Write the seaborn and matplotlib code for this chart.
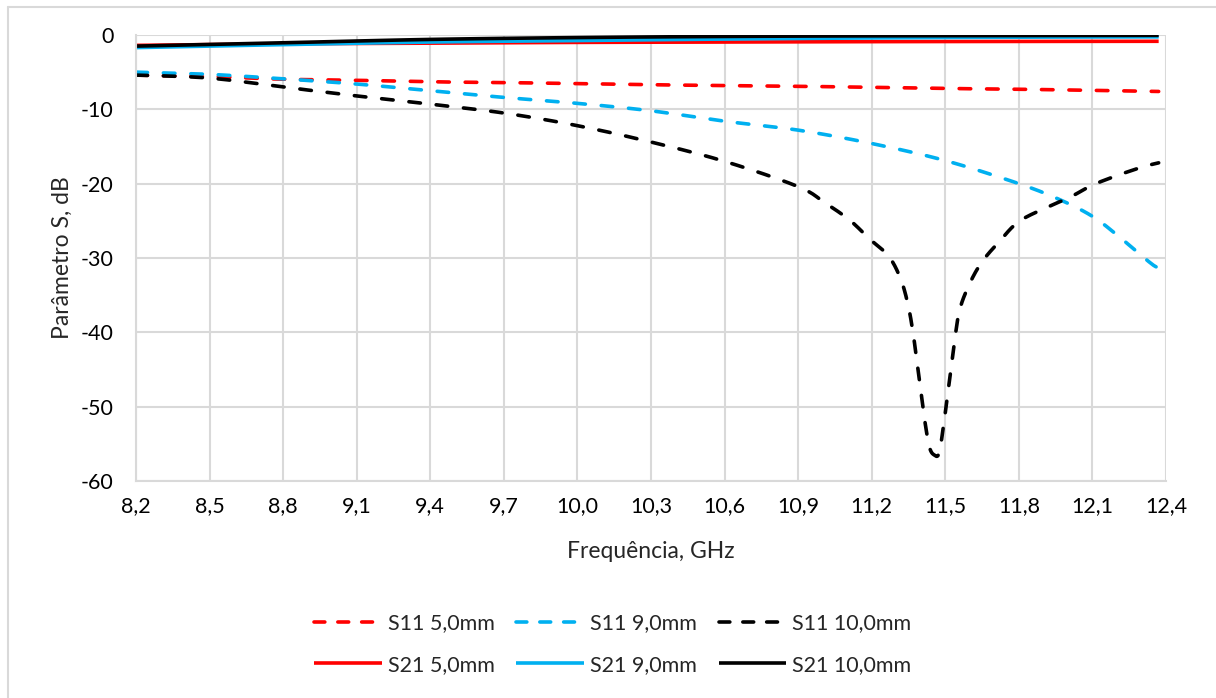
import matplotlib
matplotlib.use("Agg")
import matplotlib.pyplot as plt
import matplotlib.lines as mlines
import seaborn as sns
import numpy as np

# Frequency (GHz) and S-parameter (dB) series
freq_s11_5 = [8.2, 8.5, 8.8, 9.1, 9.4, 9.7, 10.0, 10.3, 10.6, 10.9, 11.2, 11.5, 11.8, 12.1, 12.37]
s11_5 = [-5.4, -5.6, -5.95, -6.1, -6.3, -6.4, -6.55, -6.7, -6.8, -6.9, -7.05, -7.2, -7.3, -7.45, -7.6]

freq_s11_9 = [8.2, 8.5, 8.8, 9.1, 9.4, 9.7, 10.0, 10.3, 10.6, 10.9, 11.2, 11.5, 11.8, 11.97, 12.1, 12.2, 12.33, 12.36]
s11_9 = [-5.0, -5.3, -5.9, -6.6, -7.5, -8.4, -9.2, -10.2, -11.6, -12.8, -14.6, -16.9, -20.0, -22.2, -24.4, -26.9, -30.5, -31.2]

freq_s11_10 = [8.2, 8.5, 8.8, 9.1, 9.4, 9.7, 10.0, 10.3, 10.6, 10.9, 11.01, 11.11, 11.19, 11.27, 11.32,
               11.35, 11.37, 11.385, 11.40, 11.415, 11.435, 11.455, 11.475, 11.495, 11.51, 11.525, 11.54,
               11.56, 11.6, 11.65, 11.72, 11.8, 11.92, 12.01, 12.1, 12.21, 12.31, 12.37]
s11_10 = [-5.4, -5.8, -7.0, -8.2, -9.3, -10.5, -12.2, -14.4, -17.0, -20.4, -22.6, -24.9, -27.4, -29.8, -33.0,
          -36.6, -40.4, -44.2, -47.8, -51.6, -55.4, -56.5, -56.2, -52.0, -48.2, -44.4, -40.6,
          -36.8, -33.4, -30.5, -27.8, -25.1, -23.1, -21.8, -20.2, -18.8, -17.7, -17.2]

freq_s21 = [8.2, 8.8, 9.4, 10.0, 10.6, 11.2, 11.8, 12.37]
s21_5 = [-1.4, -1.2, -1.1, -1.0, -0.95, -0.9, -0.87, -0.85]
s21_9 = [-1.7, -1.3, -0.95, -0.75, -0.55, -0.4, -0.3, -0.25]
s21_10 = [-1.5, -1.05, -0.6, -0.35, -0.2, -0.12, -0.08, -0.05]

x_ticks = [8.2, 8.5, 8.8, 9.1, 9.4, 9.7, 10.0, 10.3, 10.6, 10.9, 11.2, 11.5, 11.8, 12.1, 12.4]
y_ticks = [0, -10, -20, -30, -40, -50, -60]

RED = "#FF0000"
BLUE = "#00B0F0"
BLACK = "#000000"

sns.set_theme(style="white")
plt.rcParams["font.family"] = ["Lato", "DejaVu Sans"]

fig = plt.figure(figsize=(12.16, 6.98), dpi=100)
ax = fig.add_axes([0.1118, 0.3109, 0.8471, 0.6390])

series = [
    (freq_s11_5, s11_5, RED, "--", "S11 5,0mm"),
    (freq_s11_9, s11_9, BLUE, "--", "S11 9,0mm"),
    (freq_s11_10, s11_10, BLACK, "--", "S11 10,0mm"),
    (freq_s21, s21_5, RED, "-", "S21 5,0mm"),
    (freq_s21, s21_9, BLUE, "-", "S21 9,0mm"),
    (freq_s21, s21_10, BLACK, "-", "S21 10,0mm"),
]


def catmull_rom(p, steps=12):
    """Smooth curve through the points p (Catmull-Rom spline)."""
    out = []
    n = len(p)
    for i in range(n - 1):
        p0 = p[max(i - 1, 0)]
        p1 = p[i]
        p2 = p[i + 1]
        p3 = p[min(i + 2, n - 1)]
        for s in np.linspace(0, 1, steps, endpoint=False):
            out.append(0.5 * ((2 * p1) + (-p0 + p2) * s + (2 * p0 - 5 * p1 + 4 * p2 - p3) * s ** 2
                              + (-p0 + 3 * p1 - 3 * p2 + p3) * s ** 3))
    out.append(p[-1])
    return np.array(out)


LW = 2.6
DASH = (3.2, 4.4)
handles = {}
for xs, ys, col, ls, name in series:
    xf = catmull_rom(np.asarray(xs, float))
    yf = catmull_rom(np.asarray(ys, float))
    sns.lineplot(x=xf, y=yf, ax=ax, color=col, linewidth=LW, sort=False, estimator=None,
                 legend=False)
    line = ax.lines[-1]
    line.set_linestyle(ls)
    if ls == "--":
        line.set_dashes(DASH)
        line.set_dash_capstyle("round")
    else:
        line.set_solid_capstyle("butt")
    h = mlines.Line2D([], [], color=col, linewidth=LW, linestyle=ls,
                      dash_capstyle="round", solid_capstyle="butt")
    if ls == "--":
        h.set_dashes((3.0, 3.6))
    handles[name] = h

ax.set_xlim(8.2, 12.4)
ax.set_ylim(-60, 0)
ax.set_xticks(x_ticks)
ax.set_yticks(y_ticks)
ax.set_xticklabels([f"{v:.1f}".replace(".", ",") for v in x_ticks])
ax.set_yticklabels([str(v) for v in y_ticks])
ax.tick_params(axis="both", length=0, labelsize=15.5, colors="#000000")
ax.tick_params(axis="x", pad=11)
ax.tick_params(axis="y", pad=16)
ax.grid(True, color="#D9D9D9", linewidth=1.5)
ax.set_axisbelow(True)
for side in ["top", "right"]:
    ax.spines[side].set_visible(False)
for side in ["left", "bottom"]:
    ax.spines[side].set_color("#D9D9D9")
    ax.spines[side].set_linewidth(1.5)

ax.set_xlabel("Frequência, GHz", fontsize=16.5, labelpad=18)
ax.set_ylabel("Parâmetro S, dB", fontsize=16.5, labelpad=6)

order = ["S11 5,0mm", "S21 5,0mm", "S11 9,0mm", "S21 9,0mm", "S11 10,0mm", "S21 10,0mm"]
fig.legend([handles[k] for k in order], order, loc="center", bbox_to_anchor=(0.504, 0.077),
           ncol=3, frameon=False, fontsize=15.5, handlelength=3.15, handletextpad=0.28,
           columnspacing=1.0, labelspacing=1.0)

# chart area frame
fig.add_artist(mlines.Line2D([7.5 / 1216, 7.5 / 1216], [0, 1 - 6.5 / 698], color="#D9D9D9",
                             linewidth=1.5, transform=fig.transFigure))
fig.add_artist(mlines.Line2D([7.5 / 1216, 1], [1 - 6.5 / 698, 1 - 6.5 / 698], color="#D9D9D9",
                             linewidth=1.5, transform=fig.transFigure))

fig.savefig("out.png", dpi=100, facecolor="white")
